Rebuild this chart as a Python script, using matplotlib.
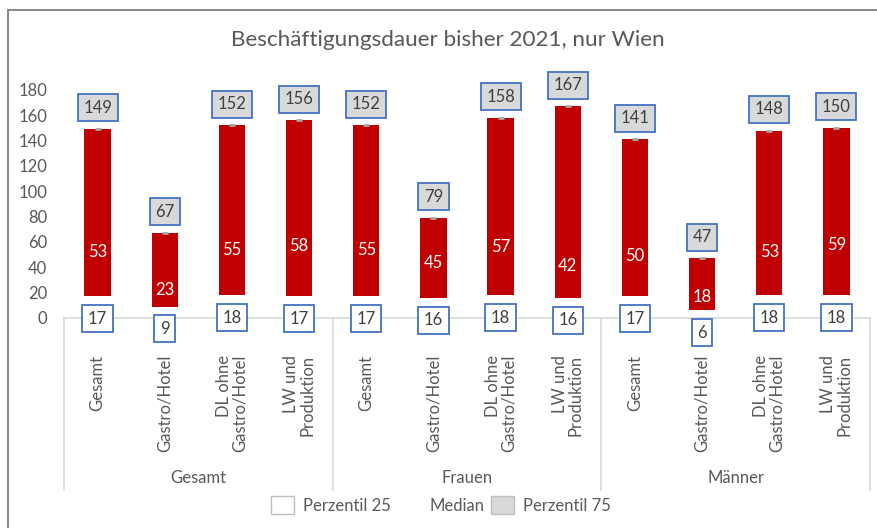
import matplotlib
matplotlib.use('Agg')
import matplotlib.pyplot as plt
from matplotlib.patches import Patch
from matplotlib.lines import Line2D

plt.rcParams['font.family'] = ['Lato', 'DejaVu Sans']

groups = ['Gesamt', 'Frauen', 'Männer']
categories = ['Gesamt', 'Gastro/Hotel', 'DL ohne\nGastro/Hotel', 'LW und\nProduktion'] * 3
p25 = [17, 9, 18, 17, 17, 16, 18, 16, 17, 6, 18, 18]
median = [53, 23, 55, 58, 55, 45, 57, 42, 50, 18, 53, 59]
p75 = [149, 67, 152, 156, 152, 79, 158, 167, 141, 47, 148, 150]

W, H = 877, 528
fig = plt.figure(figsize=(W / 100, H / 100), dpi=100)
ax = fig.add_axes([64 / W, 1 - 318 / H, (870 - 64) / W, (318 - 90) / H])

txt = '#595959'
blue = '#4472c4'
x = list(range(len(categories)))
heights = [b - a for a, b in zip(p25, p75)]
ax.bar(x, heights, bottom=p25, width=0.39, color='#c00000', zorder=2)
# tiny grey cap for Perzentil 75
ax.plot(x, p75, ls='none', marker='_', ms=4, mew=2, color='#a6a6a6', zorder=3)

for i in x:
    ax.annotate(str(p75[i]), (i, p75[i]), xytext=(0, 9.6), textcoords='offset points',
                ha='center', va='bottom', fontsize=12, color='#404040', annotation_clip=False,
                bbox=dict(boxstyle='square,pad=0.33', fc='#d9d9d9', ec=blue, lw=1.3))
    ax.annotate(str(p25[i]), (i, p25[i]), xytext=(0, -10.3), textcoords='offset points',
                ha='center', va='top', fontsize=12, color='#404040', annotation_clip=False,
                bbox=dict(boxstyle='square,pad=0.33', fc='white', ec=blue, lw=1.3), zorder=4)
    ax.text(i, median[i], str(median[i]), ha='center', va='center_baseline',
            fontsize=12, color='white', zorder=3)

ax.set_xlim(-0.5, len(categories) - 0.5)
ax.set_ylim(0, 180)
ax.set_yticks(range(0, 181, 20))
ax.tick_params(axis='y', length=0, labelsize=12, labelcolor=txt, pad=12)
ax.set_xticks([])
for s in ['left', 'right', 'top']:
    ax.spines[s].set_visible(False)
ax.spines['bottom'].set_color('#d9d9d9')
ax.spines['bottom'].set_linewidth(1.2)

# category labels (rotated) and group labels
for i, c in enumerate(categories):
    ax.annotate(c, (i, 0), xytext=(0, -26.5), textcoords='offset points', rotation=90,
                ha='center', va='top', multialignment='right', fontsize=12, color=txt,
                annotation_clip=False, linespacing=1.0)
for g, name in enumerate(groups):
    ax.annotate(name, (g * 4 + 1.5, 0), xytext=(0, -115), textcoords='offset points',
                ha='center', va='center', fontsize=12, color=txt, annotation_clip=False)
for k in range(4):
    ax.add_line(Line2D([k * 4 - 0.5] * 2, [0, -(490 - 318) / 228 * 180],
                       color='#d9d9d9', lw=1.2, clip_on=False))

fig.text(448 / W, 1 - 40 / H, 'Beschäftigungsdauer bisher 2021, nur Wien',
         ha='center', va='center', fontsize=16.2, color=txt)

handles = [Patch(fc='white', ec='#bfbfbf'), Patch(fc='none', ec='none'),
           Patch(fc='#d9d9d9', ec='#bfbfbf')]
fig.legend(handles, ['Perzentil 25', 'Median', 'Perzentil 75'], loc='center',
           bbox_to_anchor=(441 / W, 1 - 505 / H), ncol=3, frameon=False, fontsize=12,
           labelcolor=txt, handlelength=1.38, handleheight=1.2, handletextpad=0.55,
           columnspacing=0.4)

# chart frame (top and left edges visible)
fig.add_artist(Line2D([7.5 / W, 1], [1 - 9.5 / H] * 2, color='#8c8c8c', lw=1.5))
fig.add_artist(Line2D([7.5 / W] * 2, [0, 1 - 9.5 / H], color='#8c8c8c', lw=1.5))

fig.savefig('out.png', dpi=100)
